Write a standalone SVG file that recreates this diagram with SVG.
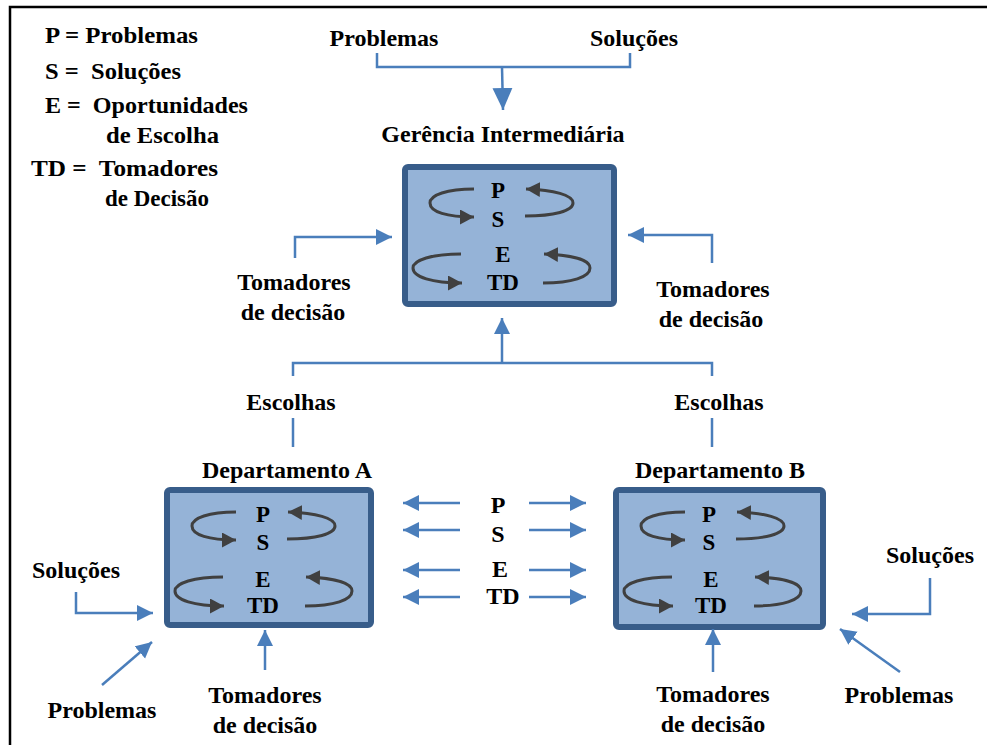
<svg xmlns="http://www.w3.org/2000/svg" width="987" height="745" viewBox="0 0 987 745">
  <style>
    text { font-weight: bold; fill: #000; white-space: pre; }
    .lbl { font-size: 24px; text-anchor: middle; }
    .leg { font-size: 24px; }
    .ltr { font-size: 23px; text-anchor: middle; }
    .box { fill: #95B3D7; stroke: #385D8A; stroke-width: 6; }
    .flow { fill: none; stroke: #4A7EBB; stroke-width: 2.5; }
    .cyc { fill: none; stroke: #404040; stroke-width: 3; marker-end: url(#headGray); }
  </style>
  <defs>
    <marker id="headBlue" markerUnits="userSpaceOnUse" markerWidth="18" markerHeight="18" refX="16" refY="8" orient="auto">
      <path d="M0,0 L16,8 L0,16 Z" fill="#4A7EBB"/>
    </marker>
    <marker id="headBlueBig" markerUnits="userSpaceOnUse" markerWidth="24" markerHeight="22" refX="22" refY="10" orient="auto">
      <path d="M0,0 L22,10 L0,20 Z" fill="#4A7EBB"/>
    </marker>
    <marker id="headGray" markerUnits="userSpaceOnUse" markerWidth="16" markerHeight="16" refX="14" refY="7.5" orient="auto">
      <path d="M0,0 L14,7.5 L0,15 Z" fill="#404040"/>
    </marker>
    <!-- four circulating loops drawn inside each unit box -->
    <g id="cycles">
      <path class="cyc" d="M72,25 C45,25 28,31 28,39 C28,48 45,53 72,53"/>
      <path class="cyc" d="M123,52 C152,52 171,47 171,39 C171,31 152,26 124,25"/>
      <path class="cyc" d="M59,90 C30,90 11,96 11,104 C11,113 30,119 60,119"/>
      <path class="cyc" d="M141,119 C170,119 188,113 188,104 C188,96 170,91 142,90"/>
    </g>
  </defs>

  <g font-family="Liberation Serif, Times New Roman, serif">
  <!-- frame -->
  <path d="M10,760 L10,7 L1000,7" fill="none" stroke="#000" stroke-width="2.5"/>

  <!-- legend -->
  <g id="legend">
    <text class="leg" x="45" y="43" textLength="153" lengthAdjust="spacingAndGlyphs">P = Problemas</text>
    <text class="leg" x="45" y="79" textLength="136" lengthAdjust="spacingAndGlyphs">S =  Soluções</text>
    <text class="leg" x="45" y="113" textLength="203" lengthAdjust="spacingAndGlyphs">E =  Oportunidades</text>
    <text class="leg" x="106" y="143" textLength="113" lengthAdjust="spacingAndGlyphs">de Escolha</text>
    <text class="leg" x="31" y="176" textLength="187" lengthAdjust="spacingAndGlyphs">TD =  Tomadores</text>
    <text class="leg" x="105" y="206" textLength="104" lengthAdjust="spacingAndGlyphs">de Decisão</text>
  </g>

  <!-- middle management unit -->
  <g id="gerencia">
    <text class="lbl" x="503" y="142">Gerência Intermediária</text>
    <rect class="box" x="405" y="167" width="209" height="137" rx="3"/>
    <use href="#cycles" transform="translate(402,164)"/>
    <text class="ltr" x="498" y="198">P</text>
    <text class="ltr" x="498" y="227">S</text>
    <text class="ltr" x="503" y="262">E</text>
    <text class="ltr" x="503" y="290">TD</text>
  </g>

  <!-- department A -->
  <g id="deptA">
    <text class="lbl" x="287" y="478">Departamento A</text>
    <rect class="box" x="167" y="490" width="204" height="135" rx="3"/>
    <use href="#cycles" transform="translate(164,487)"/>
    <text class="ltr" x="263" y="522">P</text>
    <text class="ltr" x="263" y="550">S</text>
    <text class="ltr" x="263" y="587">E</text>
    <text class="ltr" x="263" y="613">TD</text>
  </g>

  <!-- department B -->
  <g id="deptB">
    <text class="lbl" x="720" y="478">Departamento B</text>
    <rect class="box" x="616" y="490" width="207" height="137" rx="3"/>
    <use href="#cycles" transform="translate(613,487)"/>
    <text class="ltr" x="709" y="522">P</text>
    <text class="ltr" x="709" y="550">S</text>
    <text class="ltr" x="711" y="587">E</text>
    <text class="ltr" x="711" y="613">TD</text>
  </g>

  <!-- labels of inputs -->
  <g id="labels">
    <text class="lbl" x="384" y="46">Problemas</text>
    <text class="lbl" x="634" y="46">Soluções</text>
    <text class="lbl" x="294" y="290">Tomadores</text>
    <text class="lbl" x="293" y="320">de decisão</text>
    <text class="lbl" x="713" y="297">Tomadores</text>
    <text class="lbl" x="711" y="327">de decisão</text>
    <text class="lbl" x="291" y="410">Escolhas</text>
    <text class="lbl" x="719" y="410">Escolhas</text>
    <text class="lbl" x="498" y="513">P</text>
    <text class="lbl" x="498" y="542">S</text>
    <text class="lbl" x="500" y="577">E</text>
    <text class="lbl" x="503" y="604">TD</text>
    <text class="lbl" x="76" y="578">Soluções</text>
    <text class="lbl" x="102" y="718">Problemas</text>
    <text class="lbl" x="265" y="703">Tomadores</text>
    <text class="lbl" x="265" y="733">de decisão</text>
    <text class="lbl" x="930" y="563">Soluções</text>
    <text class="lbl" x="899" y="703">Problemas</text>
    <text class="lbl" x="713" y="702">Tomadores</text>
    <text class="lbl" x="713" y="732">de decisão</text>
  </g>

  <!-- connectors -->
  <g id="connectors">
    <path class="flow" d="M377,53 V67 H630 V53"/>
    <path class="flow" d="M502,67 L503,110" marker-end="url(#headBlueBig)"/>
    <path class="flow" d="M295,258 V237 H392" marker-end="url(#headBlue)"/>
    <path class="flow" d="M712,263 V235 H628" marker-end="url(#headBlue)"/>
    <path class="flow" d="M293,376 V363 H712 V376"/>
    <path class="flow" d="M502,363 V318" marker-end="url(#headBlue)"/>
    <path class="flow" d="M293,418 V447"/>
    <path class="flow" d="M712,418 V447"/>
    <path class="flow" d="M460,503 H403" marker-end="url(#headBlue)"/>
    <path class="flow" d="M460,530 H403" marker-end="url(#headBlue)"/>
    <path class="flow" d="M460,570 H403" marker-end="url(#headBlue)"/>
    <path class="flow" d="M460,597 H403" marker-end="url(#headBlue)"/>
    <path class="flow" d="M529,503 H586" marker-end="url(#headBlue)"/>
    <path class="flow" d="M529,530 H586" marker-end="url(#headBlue)"/>
    <path class="flow" d="M529,570 H586" marker-end="url(#headBlue)"/>
    <path class="flow" d="M529,597 H586" marker-end="url(#headBlue)"/>
    <path class="flow" d="M76,592 V613 H153" marker-end="url(#headBlue)"/>
    <path class="flow" d="M102,685 L152,642" marker-end="url(#headBlue)"/>
    <path class="flow" d="M265,670 V630" marker-end="url(#headBlue)"/>
    <path class="flow" d="M930,578 V614 H852" marker-end="url(#headBlue)"/>
    <path class="flow" d="M900,672 L840,629" marker-end="url(#headBlue)"/>
    <path class="flow" d="M713,672 V629" marker-end="url(#headBlue)"/>
  </g>
  </g>
</svg>
